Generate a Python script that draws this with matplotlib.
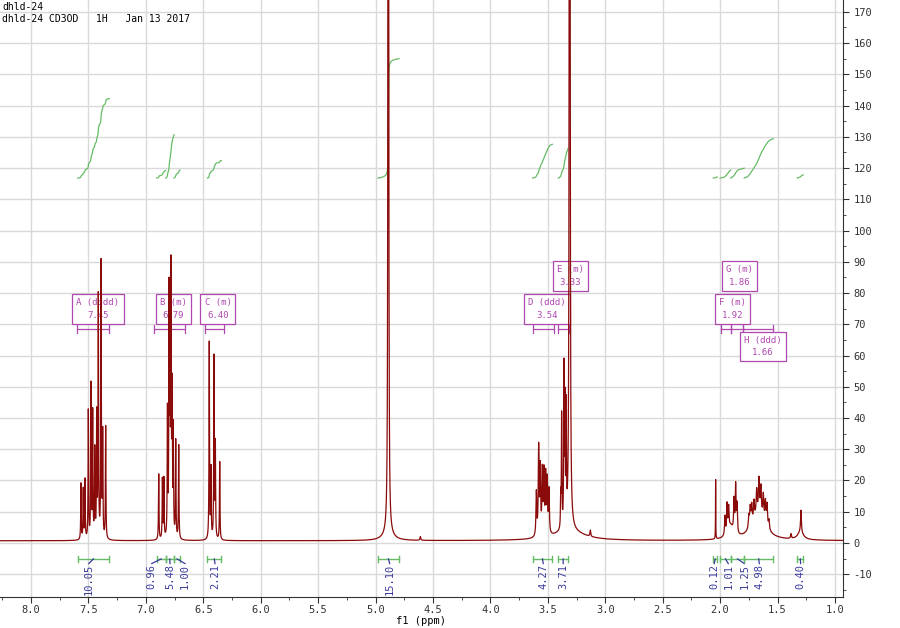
import numpy as np
import matplotlib.pyplot as plt
from matplotlib.ticker import MultipleLocator

# 1H spectrum: line position (ppm), height, half width (ppm)
a_ppm = [7.565, 7.545, 7.530, 7.501, 7.478, 7.463, 7.445, 7.428, 7.414, 7.390, 7.376, 7.350]
a_h = [18, 16, 19, 41, 49, 40, 28, 39, 77, 88, 33, 36]
b_ppm = [6.888, 6.856, 6.843, 6.812, 6.798, 6.790, 6.781, 6.772, 6.761, 6.740, 6.714]
b_h = [21, 19, 19, 40, 76, 52, 82, 44, 34, 31, 30]
c_ppm = [6.448, 6.433, 6.407, 6.395, 6.357]
c_h = [63, 22, 58, 30, 25]
d_ppm = [3.600, 3.580, 3.566, 3.548, 3.534, 3.519, 3.505, 3.490]
d_h = [14, 28, 21, 20, 19.5, 18.5, 17, 14]
e_ppm = [3.388, 3.380, 3.360, 3.351, 3.340, 3.310]
e_h = [10, 36, 50, 38, 36, 2000]
f_ppm = [2.039, 1.958, 1.940, 1.926, 1.879, 1.865, 1.853]
f_h = [19, 6, 9, 7, 10, 15, 9]
h_ppm = [1.750, 1.738, 1.725, 1.705, 1.682, 1.662, 1.645, 1.624, 1.606, 1.592, 1.575]
h_h = [4, 6, 6, 6, 8, 11, 9, 8, 7, 7, 3]
misc_ppm = [4.889, 4.61, 3.13, 1.383, 1.296]
misc_h = [1500, 1.2, 2, 1.5, 7]
# broad humps under the sharp lines
broad_ppm = [4.89, 3.31, 1.91, 1.665, 1.30]
broad_h = [2, 3, 4, 8, 2.5]
broad_w = [0.05, 0.15, 0.03, 0.07, 0.03]

# integrals: region (from, to) in ppm and value
int_from = [7.594, 6.906, 6.827, 6.755, 6.465, 4.98, 3.632, 3.409, 2.06, 2.0, 1.908, 1.79, 1.328]
int_to = [7.318, 6.827, 6.755, 6.703, 6.343, 4.796, 3.461, 3.325, 2.025, 1.908, 1.79, 1.537, 1.276]
int_val = [10.05, 0.96, 5.48, 1.00, 2.21, 15.10, 4.27, 3.71, 0.12, 1.01, 1.25, 4.98, 0.40]
int_label_ppm = [7.497, 6.949, 6.79, 6.659, 6.398, 4.877, 3.54, 3.366, 2.051, 1.929, 1.79, 1.659, 1.299]

# multiplet reports
mult_name = ["A (dddd)", "B (m)", "C (m)", "D (ddd)", "E (m)", "F (m)", "G (m)", "H (ddd)"]
mult_shift = ["7.45", "6.79", "6.40", "3.54", "3.33", "1.92", "1.86", "1.66"]
mult_from = [7.597, 6.927, 6.485, 3.632, 3.412, 1.995, 1.908, 1.797]
mult_to = [7.318, 6.659, 6.317, 3.447, 3.313, 1.908, 1.797, 1.537]
box_ppm = [7.417, 6.761, 6.372, 3.506, 3.303, 1.890, 1.832, 1.629]
box_y = [74.9, 74.9, 74.9, 74.9, 85.5, 74.9, 85.5, 62.9]

red = '#8b0a0a'
green = '#66bb66'
blue = '#3b3b9e'
purple = '#b048b0'
mono = 'DejaVu Sans Mono'

# build the trace
ppm = np.arange(8.27, 0.93, -0.0002)
base = 0.7
spec = np.full_like(ppm, base)
lines = [(a_ppm, a_h, 0.0025), (b_ppm, b_h, 0.0025), (c_ppm, c_h, 0.0025),
         (d_ppm, d_h, 0.004), (e_ppm, e_h, 0.0025), (f_ppm, f_h, 0.004),
         (h_ppm, h_h, 0.005), (misc_ppm, misc_h, 0.004)]
for pos, hts, w in lines:
    for p, h in zip(pos, hts):
        ww = w
        if h > 500:
            ww = 0.0015
        elif p == 2.039:
            ww = 0.0012
        spec += h * ww**2 / ((ppm - p)**2 + ww**2)
for p, h, w in zip(broad_ppm, broad_h, broad_w):
    spec += h * w**2 / ((ppm - p)**2 + w**2)

fig = plt.figure(figsize=(9, 6.28), dpi=100)
ax = fig.add_axes([0, 31/628, 843/900, 597/628])

ax.plot(ppm, spec, color=red, lw=0.9, zorder=5)

# integral curves and brackets
int_base = 116.8
int_scale = 2.53
br_y = -5.1
for lo, hi, v, lx in zip(int_to, int_from, int_val, int_label_ppm):
    m = (ppm <= hi) & (ppm >= lo)
    seg = spec[m] - base
    cum = np.cumsum(seg)
    cum = cum / cum[-1] * v * int_scale
    ax.plot(ppm[m], int_base + cum, color=green, lw=0.9, zorder=4)
    ax.plot([hi, lo], [br_y, br_y], color=green, lw=1, zorder=4)
    ax.plot([hi, hi], [br_y - 1, br_y + 1], color=green, lw=1, zorder=4)
    ax.plot([lo, lo], [br_y - 1, br_y + 1], color=green, lw=1, zorder=4)
    c = (hi + lo) / 2
    ax.plot([c, lx], [br_y, br_y - 1.5], color=blue, lw=0.9, zorder=4)
    ax.text(lx, -6.6, f"{v:.2f}", rotation=90, ha='center', va='top',
            color=blue, fontsize=7.5, family=mono, zorder=4, clip_on=True)

# multiplet boxes
mb_y = 68.5
for name, sh, f, t, bx, by in zip(mult_name, mult_shift, mult_from, mult_to, box_ppm, box_y):
    ax.plot([f, t], [mb_y, mb_y], color=purple, lw=0.9, zorder=3)
    ax.plot([f, f], [mb_y - 1.2, mb_y + 1.2], color=purple, lw=0.9, zorder=3)
    ax.plot([t, t], [mb_y - 1.2, mb_y + 1.2], color=purple, lw=0.9, zorder=3)
    ax.text(bx, by, name + "\n" + sh, ha='center', va='center', multialignment='center',
            color=purple, fontsize=6.5, family=mono, linespacing=1.5, zorder=3,
            bbox=dict(boxstyle='square,pad=0.45', fc='white', ec=purple, lw=0.9))

ax.set_xlim(8.27, 0.93)
ax.set_ylim(-17.3, 173.8)
ax.xaxis.set_major_locator(MultipleLocator(0.5))
ax.xaxis.set_minor_locator(MultipleLocator(0.25))
ax.yaxis.set_major_locator(MultipleLocator(10))
ax.yaxis.set_minor_locator(MultipleLocator(5))
ax.yaxis.tick_right()
ax.grid(True, which='major', color='#d9d9d9', lw=1, zorder=0)
ax.set_axisbelow(True)
for s in ['left', 'top']:
    ax.spines[s].set_visible(False)
ax.spines['right'].set_color('#333333')
ax.spines['bottom'].set_color('#333333')
ax.tick_params(axis='both', which='major', direction='out', length=4, labelsize=7.5, colors='#333333')
ax.tick_params(axis='x', which='major', pad=2)
ax.tick_params(axis='both', which='minor', direction='out', length=2.5, colors='#333333')
for lab in ax.get_xticklabels() + ax.get_yticklabels():
    lab.set_family(mono)
ax.xaxis.set_major_formatter(lambda v, p: f"{v:.1f}")
ax.yaxis.set_major_formatter(lambda v, p: f"{v:.0f}")

fig.text(421/900, 1 - 621/628, "f1 (ppm)", fontsize=7.5, family=mono, ha='center', va='center')

fig.text(2/900, 1 - 2/628, "dhld-24", fontsize=7, family=mono, va='top', ha='left')
fig.text(2/900, 1 - 14/628, "dhld-24 CD3OD   1H   Jan 13 2017", fontsize=7, family=mono, va='top', ha='left')

fig.savefig("out.png", dpi=100)
